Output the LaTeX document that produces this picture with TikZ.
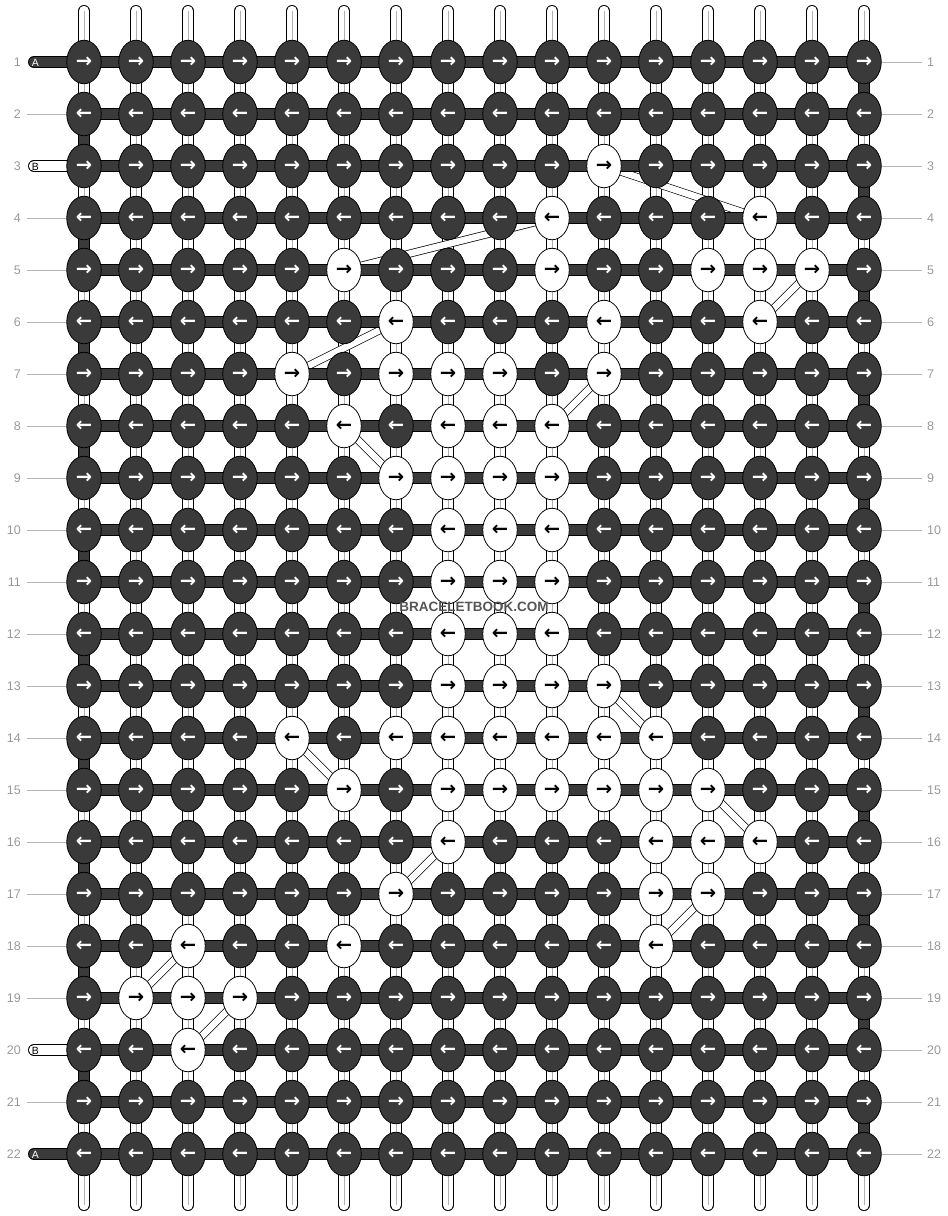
\documentclass[tikz,border=0pt]{standalone}
\usepackage{fontspec}
\setmainfont{Liberation Sans}
\newfontfamily\arrowfont{DejaVu Sans}[BoldFont={* Bold}]
\usetikzlibrary{shapes.geometric}
\pgfdeclarelayer{bg}
\pgfdeclarelayer{mid}
\pgfsetlayers{bg,mid,main}
\definecolor{kdark}{HTML}{3A3A3A}
\definecolor{numgray}{HTML}{999999}
\definecolor{linegray}{HTML}{B4B4B4}
\definecolor{strmid}{HTML}{B0B0B0}
\definecolor{wmgray}{HTML}{555555}
\tikzset{
  knotbase/.style={ellipse, draw=black, line width=0.8pt, minimum width=34.5pt, minimum height=43.5pt, inner sep=0pt, font=\arrowfont\bfseries\fontsize{19.5}{19.5}\selectfont},
  dknot/.style={knotbase, fill=kdark, text=white},
  wknot/.style={knotbase, fill=white, text=black},
  vstr/.style={draw=black, line width=0.8pt, double=white, double distance=10.4pt, line cap=round},
  vmid/.style={draw=strmid, line width=0.8pt},
  edgeseg/.style={draw=black, line width=0.8pt, double=kdark, double distance=10.4pt},
  barseg/.style={draw=black, line width=0.6pt, double=kdark, double distance=10.8pt},
  band/.style={draw=black, line width=0.7pt, double=white, double distance=6.5pt},
  dtab/.style={draw=black, line width=0.8pt, double=kdark, double distance=10.4pt, line cap=round},
  wtab/.style={draw=black, line width=0.8pt, double=white, double distance=10.4pt, line cap=round},
  gline/.style={draw=linegray, line width=1pt},
  rownum/.style={text=numgray, font=\fontsize{12.5}{13}\selectfont, inner sep=0pt},
  tablabel/.style={font=\fontsize{10.5}{11}\selectfont, inner sep=0pt},
  wmark/.style={text=wmgray, font=\bfseries\fontsize{13.5}{14}\selectfont, inner sep=0pt}
}
\begin{document}
\begin{tikzpicture}[x=1pt,y=-1pt]
\useasboundingbox (0,0) rectangle (948,1216);
% white knots
\foreach \p in {3/11,4/10,4/14,5/6,5/10,5/13,5/14,5/15,6/7,6/11,6/14,
  7/5,7/7,7/8,7/9,7/11,8/6,8/8,8/9,8/10,9/7,9/8,9/9,9/10,
  10/8,10/9,10/10,11/8,11/9,11/10,12/8,12/9,12/10,13/8,13/9,13/10,13/11,
  14/5,14/7,14/8,14/9,14/10,14/11,14/12,15/6,15/8,15/9,15/10,15/11,15/12,15/13,
  16/8,16/12,16/13,16/14,17/7,17/12,17/13,18/3,18/6,18/12,19/2,19/3,19/4,20/3}
  {\expandafter\gdef\csname w\p\endcsname{}}
% knots
\foreach \r in {1,...,22}{
  \foreach \c in {1,...,16}{
    \pgfmathsetmacro\xx{84+52*(\c-1)}
    \pgfmathsetmacro\yy{62+52*(\r-1)}
    \ifcsname w\r/\c\endcsname\def\kst{wknot}\else\def\kst{dknot}\fi
    \ifodd\r\def\arr{→}\else\def\arr{←}\fi
    \node[\kst] (k-\r-\c) at (\xx,\yy) {\arr};
  }
}
% vertical strings
\foreach \c in {1,...,16}{
  \pgfmathsetmacro\xx{84+52*(\c-1)}
  \coordinate (vt-\c) at (\xx,11);
  \coordinate (vb-\c) at (\xx,1205);
  \begin{pgfonlayer}{bg}
    \draw[vstr] (vt-\c) -- (vb-\c);
    \draw[vmid] (vt-\c) -- (vb-\c);
  \end{pgfonlayer}
}
\begin{pgfonlayer}{mid}
% diagonal bands
\foreach \a/\b in {k-3-11/k-4-14,k-4-10/k-5-6,k-5-15/k-6-14,k-6-7/k-7-5,
  k-7-11/k-8-10,k-8-6/k-9-7,k-13-11/k-14-12,k-14-5/k-15-6,k-15-13/k-16-14,
  k-16-8/k-17-7,k-17-13/k-18-12,k-18-3/k-19-2,k-19-4/k-20-3}
  {\draw[band] (\a.center) -- (\b.center);}
% edge turns
\foreach \r [evaluate=\r as \rn using int(\r+1)] in {2,4,...,20}
  {\draw[edgeseg] (k-\r-1.center) -- (k-\rn-1.center);}
\foreach \r [evaluate=\r as \rn using int(\r+1)] in {1,3,...,21}
  {\draw[edgeseg] (k-\r-16.center) -- (k-\rn-16.center);}
% horizontal bars
\foreach \r in {1,...,22}{
  \foreach \c [evaluate=\c as \cn using int(\c+1)] in {1,...,15}
    {\draw[barseg] (k-\r-\c.center) -- (k-\r-\cn.center);}
}
% tabs
\coordinate (ta-1) at (34,62);
\coordinate (ta-3) at (34,166);
\coordinate (ta-20) at (34,1050);
\coordinate (ta-22) at (34,1154);
\draw[dtab] (ta-1) -- (k-1-1.center);
\draw[wtab] (ta-3) -- (k-3-1.center);
\draw[wtab] (ta-20) -- (k-20-1.center);
\draw[dtab] (ta-22) -- (k-22-1.center);
\end{pgfonlayer}
\node[tablabel, text=white] (la-1) at (35.5,62.5) {A};
\node[tablabel, text=black] (la-3) at (35.5,166.5) {B};
\node[tablabel, text=black] (la-20) at (35.5,1050.5) {B};
\node[tablabel, text=white] (la-22) at (35.5,1154.5) {A};
% row numbers and guide lines
\foreach \r in {1,...,22}{
  \pgfmathsetmacro\yy{62+52*(\r-1)}
  \node[rownum, anchor=east] (ln-\r) at (21,\yy) {\r};
  \node[rownum, anchor=west] (rn-\r) at (927,\yy) {\r};
  \coordinate (rg-\r) at (922,\yy);
  \draw[gline] (k-\r-16) -- (rg-\r);
}
\foreach \r in {2,4,5,6,7,8,9,10,11,12,13,14,15,16,17,18,19,21}{
  \pgfmathsetmacro\yy{62+52*(\r-1)}
  \coordinate (lg-\r) at (27,\yy);
  \draw[gline] (lg-\r) -- (k-\r-1);
}
\node[wmark] (wm) at (474,607) {BRACELETBOOK.COM};
\end{tikzpicture}
\end{document}
